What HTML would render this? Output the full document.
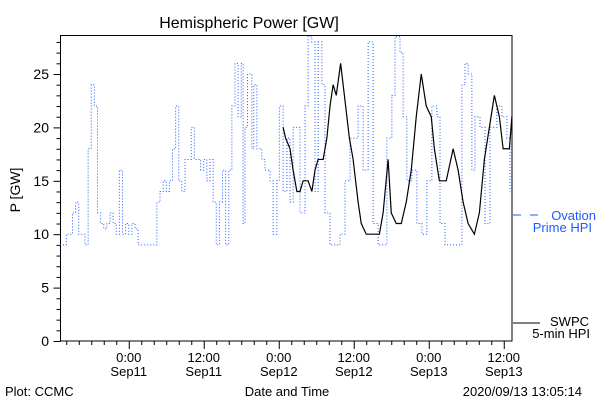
<!DOCTYPE html>
<html><head><meta charset="utf-8"><style>
html,body{margin:0;padding:0;background:#fff}
svg{display:block;font-family:"Liberation Sans",sans-serif}
</style></head><body>
<svg id="chart" width="600" height="400" viewBox="0 0 600 400" xmlns="http://www.w3.org/2000/svg">
<text x="249" y="28" font-size="16" text-anchor="middle">Hemispheric Power [GW]</text>
<rect x="60.5" y="35.5" width="451.5" height="305.5" fill="none" stroke="#000" stroke-width="1"/>
<g id="yaxis"></g>
<g id="xaxis"></g>
<g id="series"></g>
<text x="20" y="190" font-size="14" text-anchor="middle" transform="rotate(-90 20 190)">P [GW]</text>
<text x="5" y="396" font-size="13">Plot: CCMC</text>
<text x="287" y="396" font-size="13" text-anchor="middle">Date and Time</text>
<text x="582" y="396" font-size="13" text-anchor="end">2020/09/13 13:05:14</text>
<g>
<line x1="513" y1="215" x2="521" y2="215" stroke="#1e5aff" stroke-width="1"/>
<line x1="530" y1="215" x2="538" y2="215" stroke="#1e5aff" stroke-width="1"/>
<text x="596" y="220" font-size="13" fill="#1e5aff" text-anchor="end">Ovation</text>
<text x="592" y="232" font-size="13" fill="#1e5aff" text-anchor="end">Prime HPI</text>
</g>
<g>
<line x1="513" y1="323" x2="540" y2="323" stroke="#000" stroke-width="1"/>
<text x="589" y="326" font-size="13" text-anchor="end">SWPC</text>
<text x="590" y="338" font-size="13" text-anchor="end">5-min HPI</text>
</g>
</svg>
<script>
// hours since Sep10 13:00
const blueHours = [0,1,1.5,2,2.5,3,3.5,4,4.5,5,5.5,6,6.5,7,7.5,8,8.5,9,9.5,10,10.5,11,11.5,12,12.5,13,15,15.5,16,16.5,17,17.5,18,18.5,19,19.5,20,20.5,21,21.5,22,22.5,23,23.5,24,24.5,25,25.5,26,26.5,27,27.5,28,28.5,29,29.3,29.6,30,30.7,31,31.5,32.3,32.8,33.6,34.1,34.7,35.1,35.7,36.3,36.8,37.3,37.9,38.4,39.2,39.7,40.3,40.8,41.3,41.9,42.4,43.2,44.3,44.8,45.6,46.4,47.7,48.5,49.3,50.1,50.9,51.7,52.3,53.1,53.6,54.4,54.9,55.5,56.3,57.1,57.9,58.7,59.5,60.3,60.8,61.6,62.4,63.2,64.3,64.8,65.3,65.9,66.4,67.2,68,68.8,69.9,70.7,71.5,72];
const blueValues = [9,10,10,12,13,10,10,9,18,24,22,12,11,10.5,11,12,11,10,16,10,11,10,11,10.5,9,9,9,13,14,15,14,15,18,22,15,14,17,17,20,17,17,16,17,15,17,13,9,13,16,9,16,22,26,21,26,11,20,25,18,24,18,17,16,15,10,15,22,14,19,13,20,20,12,22,28.5,28,14,28,24,12,9,9,10,15,19,22,16,28,11,9,9,19,23,28.5,27,21,15,16,11,10,15,22,21,11,9,9,9,24,26,25,16,21,20,11,20,22,21,19,14];
const blackHours = [35.7,36.1,36.8,37.3,37.9,38.4,38.9,39.7,40.3,40.8,41.3,42.1,42.7,43.2,43.7,44.2,44.9,45.5,46.3,46.9,47.7,48.2,49,50.1,51.1,51.7,52.5,53,53.8,54.6,55.4,56.2,57,57.8,58.6,59.4,59.9,60.7,61.8,62.9,63.7,64.5,65.3,66.3,67.1,67.9,68.7,69.5,70.3,70.9,71.9,72.3];
const blackValues = [20,19,18,16,14,14,15,15,14,16,17,17,19,22,24,23,26,23,19,17,13,11,10,10,10,12,17,12,11,11,13,16,21,25,22,21,18,15,15,18,16,13,11,10,12,17,20,23,21,18,18,21];
const yTicks = [0,5,10,15,20,25];
const xMajorHours = [11,23,35,47,59,71];
const xTickTop = ["0:00","12:00","0:00","12:00","0:00","12:00"];
const xTickBottom = ["Sep11","Sep11","Sep12","Sep12","Sep13","Sep13"];

const X0=60, PXH=6.25, Y0=341, PXV=10.68;
const xs = h => X0 + h*PXH;
const ys = v => Y0 - v*PXV;
const NS="http://www.w3.org/2000/svg";
function mk(tag, attrs, parent){const e=document.createElementNS(NS,tag);for(const k in attrs)e.setAttribute(k,attrs[k]);parent.appendChild(e);return e;}

const ya=document.getElementById('yaxis');
for(let v=0; v<=28; v++){
  const major = v%5===0;
  const t=mk('line',{x1:60.5-(major?7:4),x2:60.5,y1:ys(v)+0.5,y2:ys(v)+0.5,stroke:'#000'},ya);
  
  
}
yTicks.forEach(v=>{
  const t=mk('text',{x:49,y:ys(v)+5,'font-size':14,'text-anchor':'end'},ya);
  t.textContent=v;
  
  
});

const xa=document.getElementById('xaxis');
for(let h=1; h<=72; h+=2){
  const major = xMajorHours.includes(h);
  const t=mk('line',{x1:xs(h)+0.5,x2:xs(h)+0.5,y1:341,y2:341+(major?8:4),stroke:'#000'},xa);
  
  
}
xMajorHours.forEach((h,i)=>{
  const a=mk('text',{x:xs(h),y:362,'font-size':13,'text-anchor':'middle'},xa);
  a.textContent=xTickTop[i];
  
  
  const b=mk('text',{x:xs(h),y:376,'font-size':13,'text-anchor':'middle'},xa);
  b.textContent=xTickBottom[i];
  
  
});

const sg=document.getElementById('series');
let d='';
blueHours.forEach((h,i)=>{
  const x=xs(h), y=ys(blueValues[i]);
  if(i===0) d+=`M${x},${y}`; else d+=`H${x}V${y}`;
});
const bp=mk('path',{d:d,fill:'none',stroke:'#1e5aff','stroke-width':1,'stroke-dasharray':'1 2'},sg);



const pts=blackHours.map((h,i)=>`${xs(h)},${ys(blackValues[i])}`).join(' ');
const kp=mk('polyline',{points:pts,fill:'none',stroke:'#000','stroke-width':1.2},sg);


</script>
</body></html>
